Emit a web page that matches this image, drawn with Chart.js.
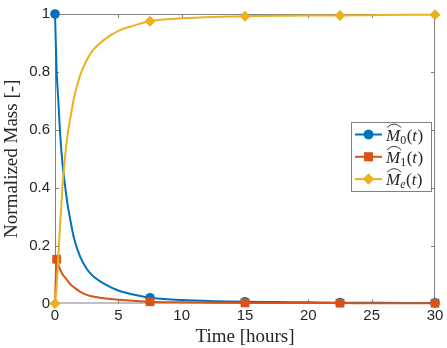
<!DOCTYPE html>
<html>
<head>
<meta charset="utf-8">
<script src="https://cdn.jsdelivr.net/npm/chart.js@4"></script>
<style>
  html, body { margin: 0; padding: 0; background: #fff; }
  #wrap { width: 447px; height: 348px; }
</style>
</head>
<body>
<div id="wrap"><canvas id="massChart" width="447" height="348"></canvas></div>
<script>
// --- data ---
const timeHours = [0, 0.13, 0.25, 0.4, 0.6, 0.8, 1.0, 1.25, 1.5, 2, 2.5, 3, 4, 5, 6, 7.5,
                   10, 12.5, 15, 17.5, 20, 22.5, 25, 27.5, 30];
const massM0 = [1, 0.8, 0.71, 0.59, 0.48, 0.405, 0.34, 0.28, 0.225, 0.16, 0.12, 0.095, 0.065,
                0.045, 0.033, 0.02, 0.012, 0.008, 0.006, 0.005, 0.004, 0.003, 0.0025, 0.002, 0.002];
const massM1 = [0, 0.153, 0.135, 0.118, 0.1, 0.09, 0.078, 0.065, 0.056, 0.04, 0.03, 0.024, 0.017,
                0.013, 0.01, 0.006, 0.004, 0.003, 0.002, 0.0018, 0.0015, 0.0013, 0.0012, 0.001, 0.001];
const massMe = [0, 0.06, 0.15, 0.27, 0.41, 0.51, 0.585, 0.65, 0.71, 0.79, 0.84, 0.875, 0.915,
                0.942, 0.957, 0.975, 0.985, 0.99, 0.992, 0.994, 0.995, 0.995, 0.996, 0.997, 0.997];
const markerTimesM0 = [0, 7.5, 15, 22.5, 30];
const markerTimesM1 = [0.13, 7.5, 15, 22.5, 30];
const markerTimesMe = [0, 7.5, 15, 22.5, 30];
const xTicks = [0, 5, 10, 15, 20, 25, 30];
const yTicks = [0, 0.2, 0.4, 0.6, 0.8, 1];
const seriesSubscripts = ['0', '1', 'e'];

const blue = '#0072BD', orange = '#D95319', yellow = '#EDB120';
const axisGray = '#808080', textGray = '#262626';
const mathFont = '"Liberation Serif", "DejaVu Serif", serif';

function toPoints(ys) {
  return timeHours.map((t, i) => ({ x: t, y: ys[i] }));
}
function markerRadius(times, r) {
  return ctx => times.includes(timeHours[ctx.dataIndex]) ? r : 0;
}

// draws the axes box with inward ticks (like matlab "box on")
const boxPlugin = {
  id: 'boxPlugin',
  beforeDatasetsDraw(chart) {
    const { ctx, chartArea: a, scales } = chart;
    ctx.save();
    ctx.strokeStyle = axisGray;
    ctx.lineWidth = 1;
    ctx.strokeRect(a.left + 0.5, a.top + 0.5, a.right - a.left - 1, a.bottom - a.top - 1);
    ctx.beginPath();
    xTicks.forEach(v => {
      const x = Math.round(scales.x.getPixelForValue(v)) + 0.5;
      ctx.moveTo(x, a.bottom); ctx.lineTo(x, a.bottom - 4);
      ctx.moveTo(x, a.top); ctx.lineTo(x, a.top + 4);
    });
    yTicks.forEach(v => {
      const y = Math.round(scales.y.getPixelForValue(v)) + 0.5;
      ctx.moveTo(a.left, y); ctx.lineTo(a.left + 4, y);
      ctx.moveTo(a.right, y); ctx.lineTo(a.right - 4, y);
    });
    ctx.stroke();
    ctx.restore();
  }
};

// legend with widehat M labels, drawn inside the plot
const mathLegend = {
  id: 'mathLegend',
  afterDraw(chart) {
    const { ctx } = chart;
    const bx = 351, by = 122, bw = 80, bh = 69;
    ctx.save();
    ctx.fillStyle = '#fff';
    ctx.fillRect(bx, by, bw, bh);
    ctx.strokeStyle = axisGray;
    ctx.lineWidth = 1;
    ctx.strokeRect(bx + 0.5, by + 0.5, bw, bh);
    chart.data.datasets.forEach((ds, i) => {
      const y = 134.5 + i * 22.3;
      ctx.strokeStyle = ds.borderColor;
      ctx.lineWidth = 2;
      ctx.beginPath(); ctx.moveTo(355, y); ctx.lineTo(382, y); ctx.stroke();
      ctx.fillStyle = ds.borderColor;
      ctx.beginPath();
      Chart.helpers.drawPoint(ctx, { pointStyle: ds.pointStyle, radius: ds.legendRadius, borderWidth: 0 }, 368.5, y);
      ctx.fill();
      // label text: M-hat_sub(t)
      ctx.fillStyle = textGray;
      ctx.textBaseline = 'alphabetic';
      let x = 386;
      const base = y + 6;
      ctx.font = 'italic 17px ' + mathFont;
      ctx.fillText('M', x, base);
      const mw = ctx.measureText('M').width;
      // wide hat
      ctx.strokeStyle = textGray;
      ctx.lineWidth = 0.9;
      ctx.beginPath();
      ctx.moveTo(x + 1, base - 13);
      ctx.quadraticCurveTo(x + mw / 2 + 1, base - 20, x + mw + 1, base - 13);
      ctx.stroke();
      x += mw;
      ctx.font = (seriesSubscripts[i] === 'e' ? 'italic ' : '') + '12px ' + mathFont;
      ctx.fillText(seriesSubscripts[i], x, base + 3);
      x += ctx.measureText(seriesSubscripts[i]).width + 0.5;
      ctx.font = '17px ' + mathFont;
      ctx.fillText('(', x, base);
      x += ctx.measureText('(').width;
      ctx.font = 'italic 17px ' + mathFont;
      ctx.fillText('t', x, base);
      x += ctx.measureText('t').width + 0.5;
      ctx.font = '17px ' + mathFont;
      ctx.fillText(')', x, base);
    });
    ctx.restore();
  }
};

const cfg = {
  type: 'line',
  data: {
    datasets: [
      {
        label: 'M0', data: toPoints(massM0), borderColor: blue, backgroundColor: blue,
        pointStyle: 'circle', pointRadius: markerRadius(markerTimesM0, 4.8), legendRadius: 4.8, order: 2
      },
      {
        label: 'M1', data: toPoints(massM1), borderColor: orange, backgroundColor: orange,
        pointStyle: 'rect', pointRadius: markerRadius(markerTimesM1, 6.2), legendRadius: 6.2, order: 1
      },
      {
        label: 'Me', data: toPoints(massMe), borderColor: yellow, backgroundColor: yellow,
        pointStyle: 'rectRot', pointRadius: markerRadius(markerTimesMe, 5.5), legendRadius: 5.5, order: 0
      }
    ]
  },
  options: {
    responsive: false,
    animation: false,
    devicePixelRatio: 1,
    layout: { padding: { top: 8, right: 12, left: 0, bottom: 0 } },
    elements: {
      line: { borderWidth: 2, cubicInterpolationMode: 'monotone', fill: false },
      point: { borderWidth: 0, hoverRadius: 0 }
    },
    datasets: { line: { clip: false } },
    scales: {
      x: {
        type: 'linear', min: 0, max: 30,
        afterFit(s) { s.height = 44.5; },
        afterBuildTicks(s) { s.ticks = xTicks.map(v => ({ value: v })); },
        grid: { display: false, drawTicks: false },
        border: { display: false },
        ticks: { color: textGray, padding: 3, maxRotation: 0,
                 font: { family: '"Liberation Sans", Arial, sans-serif', size: 15 } },
        title: { display: true, text: 'Time [hours]', color: textGray,
                 padding: { bottom: 0 }, font: { family: mathFont, size: 19 } }
      },
      y: {
        type: 'linear', min: 0, max: 1,
        afterFit(s) { s.width = 55; },
        afterBuildTicks(s) { s.ticks = yTicks.map(v => ({ value: v })); },
        grid: { display: false, drawTicks: false },
        border: { display: false },
        ticks: { color: textGray, padding: 5,
                 font: { family: '"Liberation Sans", Arial, sans-serif', size: 15 },
                 callback: v => String(Math.round(v * 10) / 10) },
        title: { display: true, text: 'Normalized Mass [-]', color: textGray,
                 padding: { top: 1 }, font: { family: mathFont, size: 19 } }
      }
    },
    plugins: {
      legend: { display: false },
      tooltip: { enabled: false }
    }
  },
  plugins: [boxPlugin, mathLegend]
};

new Chart(document.getElementById('massChart'), cfg);
</script>
</body>
</html>
